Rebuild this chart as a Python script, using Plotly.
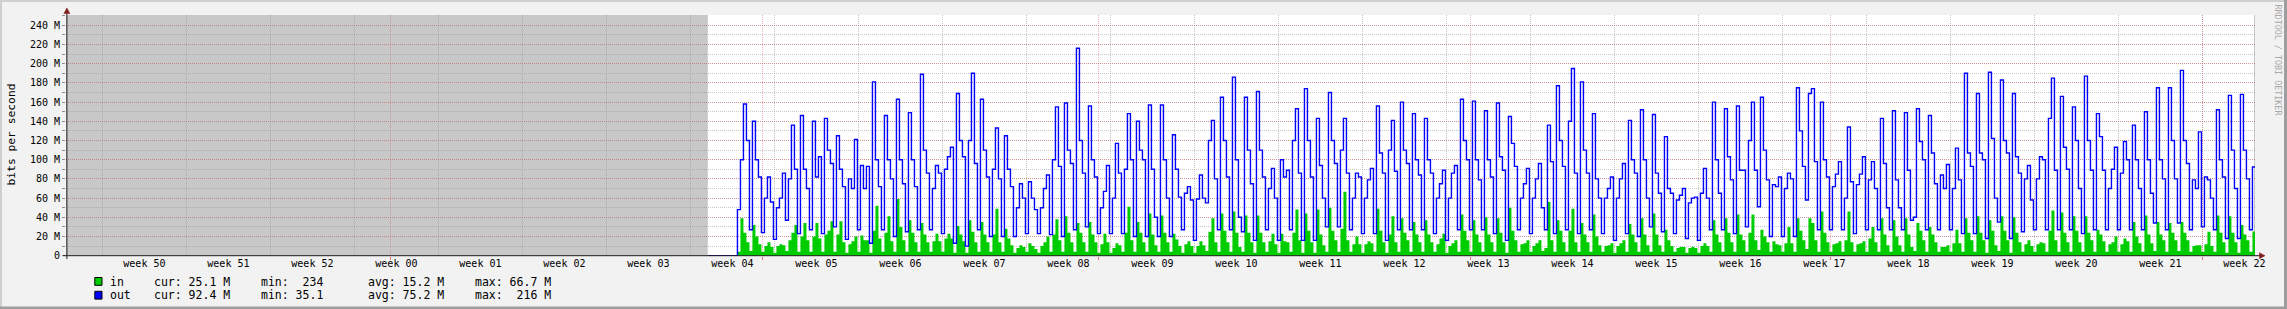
import plotly.graph_objects as go

# ---------------- data (values in M bit/s) ----------------
FIRST_DAY = 55.92        # first known sample (days from left edge of the time axis)
STEP = 0.25              # 6-hour samples, 4 per day
UNKNOWN_END = 53.45      # end of the grey "unknown" period on the left
NOW = 182.30             # last column (unknown, grey)

week_labels = ["week 50", "week 51", "week 52"] + ["week %02d" % i for i in range(0, 23)]
week_bounds = [3 + 7 * k for k in range(26)]
week_centers = [6.5 + 7 * k for k in range(26)]
month_bounds = [27, 58, 86, 117, 147, 178]
y_ticks = list(range(0, 241, 20))
y_ticktext = ["0"] + ["%d M" % v for v in y_ticks[1:]]

out_mbps = [
    [48, 100, 158, 120], [27, 140, 100, 82], [24, 60, 82, 56], [17, 50, 60, 86],
    [37, 80, 136, 90], [23, 146, 90, 70], [27, 140, 82, 103], [23, 143, 110, 96],
    [30, 125, 90, 72], [17, 80, 70, 121], [27, 94, 70, 93], [13, 181, 100, 72],
    [27, 146, 100, 80], [20, 163, 100, 75], [25, 149, 100, 72], [27, 189, 110, 86],
    [27, 70, 94, 86], [23, 90, 103, 113], [13, 169, 120, 103], [10, 120, 190, 96],
    [27, 163, 110, 82], [20, 90, 133, 80], [20, 125, 90, 72], [20, 50, 75, 60],
    [23, 77, 60, 48], [23, 50, 70, 84], [22, 100, 155, 93], [20, 159, 110, 96],
    [27, 216, 120, 86], [30, 156, 100, 82], [23, 50, 67, 94], [23, 60, 117, 86],
    [23, 90, 148, 100], [20, 140, 110, 100], [20, 157, 90, 40], [20, 157, 100, 60],
    [20, 126, 90, 61], [27, 65, 72, 58], [16, 59, 84, 60], [55, 120, 141, 80],
    [27, 165, 120, 82], [27, 186, 100, 40], [25, 165, 110, 75], [16, 171, 110, 82],
    [27, 70, 91, 60], [16, 100, 82, 89], [27, 120, 153, 86], [16, 174, 120, 82],
    [16, 143, 94, 60], [30, 170, 120, 96], [30, 110, 143, 86], [27, 60, 86, 82],
    [23, 60, 79, 91], [23, 156, 107, 86], [16, 110, 141, 88], [27, 160, 110, 96],
    [27, 148, 100, 84], [27, 143, 100, 86], [23, 60, 75, 89], [16, 60, 86, 94],
    [27, 163, 120, 100], [27, 161, 100, 79], [27, 151, 100, 82], [23, 159, 103, 89],
    [16, 145, 117, 93], [27, 60, 75, 91], [23, 60, 80, 96], [50, 27, 136, 98],
    [23, 177, 120, 93], [27, 140, 195, 86], [23, 181, 110, 86], [27, 148, 80, 60],
    [23, 60, 70, 82], [16, 60, 80, 96], [23, 141, 100, 86], [20, 152, 100, 60],
    [30, 147, 86, 65], [25, 124, 70, 65], [23, 58, 63, 70], [18, 55, 60, 61],
    [16, 65, 91, 60], [27, 160, 100, 65], [27, 153, 103, 79], [23, 156, 89, 89],
    [30, 120, 160, 89], [51, 165, 110, 79], [20, 74, 72, 82], [20, 70, 86, 80],
    [20, 175, 130, 93], [58, 169, 174, 98], [27, 160, 100, 82], [27, 72, 85, 98],
    [27, 60, 134, 77], [23, 74, 85, 103], [27, 79, 98, 70], [27, 143, 96, 50],
    [27, 151, 79, 50], [27, 149, 89, 37], [40, 153, 119, 100], [27, 146, 107, 75],
    [27, 84, 70, 95], [27, 70, 112, 79], [23, 190, 107, 93], [23, 169, 107, 100],
    [18, 191, 122, 60], [35, 183, 120, 107], [18, 169, 103, 86], [25, 80, 94, 58],
    [27, 80, 103, 100], [27, 143, 185, 89], [27, 166, 113, 90], [27, 155, 120, 70],
    [23, 187, 120, 89], [27, 148, 124, 89], [27, 70, 90, 113], [27, 86, 119, 100],
    [27, 136, 100, 70], [27, 150, 100, 65], [34, 175, 100, 80], [27, 175, 120, 80],
    [34, 193, 120, 96], [27, 79, 70, 129], [30, 82, 79, 60], [27, 152, 100, 82],
    [18, 167, 110, 70], [18, 168, 110, 80], [27, 92.4],
]

in_mbps = [
    [4, 39, 24, 14], [5, 32, 20, 12], [4, 10, 14, 9], [3, 10, 12, 11],
    [5, 16, 24, 32], [4, 20, 34, 16], [4, 20, 34, 18], [4, 22, 26, 36],
    [4, 22, 36, 14], [3, 12, 15, 20], [4, 21, 16, 16], [3, 26, 52, 18],
    [4, 24, 41, 15], [4, 59, 30, 16], [4, 37, 24, 14], [4, 34, 22, 14],
    [4, 15, 23, 15], [4, 18, 23, 18], [3, 31, 22, 15], [3, 37, 25, 14],
    [4, 35, 22, 14], [4, 22, 49, 14], [4, 28, 18, 11], [3, 8, 11, 9],
    [4, 13, 10, 7], [3, 10, 14, 20], [4, 22, 38, 16], [4, 41, 24, 14],
    [4, 34, 24, 14], [4, 35, 22, 14], [3, 12, 23, 14], [3, 8, 13, 11],
    [4, 24, 51, 16], [4, 35, 24, 14], [4, 44, 22, 11], [4, 42, 24, 14],
    [4, 23, 17, 10], [3, 12, 15, 10], [3, 10, 15, 11], [5, 25, 39, 14],
    [4, 44, 26, 14], [4, 46, 24, 9], [4, 42, 24, 14], [3, 42, 24, 14],
    [4, 15, 23, 12], [3, 23, 15, 14], [4, 24, 48, 16], [3, 44, 26, 14],
    [3, 48, 22, 11], [4, 50, 26, 16], [4, 28, 66.7, 16], [4, 12, 20, 12],
    [3, 12, 15, 13], [4, 49, 26, 14], [3, 22, 41, 14], [4, 39, 24, 16],
    [4, 35, 22, 14], [4, 37, 22, 14], [4, 12, 18, 23], [3, 10, 13, 16],
    [4, 43, 26, 16], [4, 37, 22, 14], [4, 40, 22, 14], [4, 39, 24, 14],
    [3, 50, 26, 16], [4, 12, 13, 16], [4, 10, 13, 16], [5, 8, 56, 16],
    [4, 37, 26, 14], [4, 26, 49, 14], [4, 34, 22, 14], [4, 43, 20, 11],
    [4, 10, 11, 13], [3, 10, 13, 16], [4, 33, 22, 14], [4, 39, 22, 11],
    [4, 44, 22, 11], [4, 27, 16, 10], [4, 8, 9, 9], [3, 8, 9, 8],
    [3, 10, 13, 10], [4, 37, 22, 14], [4, 39, 24, 14], [4, 43, 22, 16],
    [4, 24, 43, 16], [6, 27, 20, 14], [4, 15, 12, 11], [4, 13, 30, 13],
    [4, 39, 26, 16], [7, 39, 34, 16], [4, 46, 24, 14], [4, 12, 13, 15],
    [4, 16, 46, 14], [4, 12, 13, 15], [4, 18, 30, 14], [4, 39, 22, 11],
    [4, 37, 20, 11], [4, 39, 22, 9], [5, 34, 26, 16], [4, 30, 22, 14],
    [4, 9, 9, 11], [4, 13, 27, 13], [4, 39, 24, 16], [4, 41, 24, 16],
    [3, 37, 26, 11], [5, 41, 26, 16], [3, 40, 24, 14], [4, 12, 16, 10],
    [4, 12, 14, 13], [4, 26, 47, 16], [4, 45, 24, 14], [4, 41, 26, 14],
    [4, 41, 24, 16], [4, 27, 22, 15], [4, 12, 14, 20], [4, 12, 18, 15],
    [4, 35, 20, 13], [4, 42, 22, 13], [5, 35, 22, 16], [4, 34, 24, 16],
    [5, 35, 24, 16], [4, 10, 11, 11], [4, 12, 25, 10], [4, 42, 24, 14],
    [3, 41, 24, 14], [3, 32, 22, 16], [4, 25.1],
]

legend_names = ["in", "out"]
legend_colors = ["#00cc00", "#0000ff"]
legend_cur = ["cur: 25.1 M", "cur: 92.4 M"]
legend_min = ["min:  234", "min: 35.1"]
legend_avg = ["avg: 15.2 M", "avg: 75.2 M"]
legend_max = ["max: 66.7 M", "max:  216 M"]

# ---------------- geometry / styles ----------------
W, H = 2287, 309
L, R, T, B = 66, 32, 15, 53
PW, PH = W - L - R, H - T - B
X0PX = 66.4           # pixel of time 0
PXDAY = 12.0          # pixels per day
XR = [(L - X0PX) / PXDAY, (W - R - X0PX) / PXDAY]
YR = [-0.3, 250.7]
FONT = "DejaVu Sans Mono"
GRID = "rgba(143,143,143,0.5)"
MGRID = "rgba(222,79,79,0.42)"
AXIS = "#1f1f1f"
ARROW = "#801f1f"


def pxx(x):
    return (x - L) / PW


def pxy(y):
    return (H - B - y) / PH


def series(daily):
    vals = [v for day in daily for v in day]
    xs = [FIRST_DAY + i * STEP for i in range(len(vals))]
    xs.append(FIRST_DAY + len(vals) * STEP)
    vals.append(vals[-1])
    return xs, vals


in_x, in_y = series(in_mbps)
out_x, out_y = series(out_mbps)

fig = go.Figure()
fig.add_trace(go.Scatter(x=in_x, y=in_y, mode="lines", line=dict(shape="hv", width=0, color="#00cc00"),
                         fill="tozeroy", fillcolor="#00cc00", hoverinfo="skip"))
fig.add_trace(go.Scatter(x=[UNKNOWN_END] + out_x, y=[0] + out_y, mode="lines",
                         line=dict(shape="hv", width=1.4, color="#0000ff"), hoverinfo="skip"))
fig.add_trace(go.Scatter(x=week_centers, y=[0] * len(week_centers), xaxis="x2", mode="markers",
                         marker=dict(opacity=0), hoverinfo="skip"))

shapes = []
# unknown periods (grey)
shapes.append(dict(type="rect", xref="x", yref="paper", x0=XR[0], x1=UNKNOWN_END, y0=0, y1=1,
                   fillcolor="#c8c8c8", line=dict(width=0), layer="below"))
shapes.append(dict(type="rect", xref="x", yref="paper", x0=NOW, x1=XR[1], y0=0, y1=1,
                   fillcolor="#c8c8c8", line=dict(width=0), layer="below"))
# outer frame
shapes.append(dict(type="rect", xref="paper", yref="paper", x0=pxx(0), x1=pxx(W), y0=pxy(0), y1=pxy(2),
                   fillcolor="#cfcfcf", line=dict(width=0)))
shapes.append(dict(type="rect", xref="paper", yref="paper", x0=pxx(0), x1=pxx(2), y0=pxy(0), y1=pxy(H),
                   fillcolor="#cfcfcf", line=dict(width=0)))
shapes.append(dict(type="rect", xref="paper", yref="paper", x0=pxx(0), x1=pxx(W), y0=pxy(H - 2.5), y1=pxy(H),
                   fillcolor="#9e9e9e", line=dict(width=0)))
shapes.append(dict(type="rect", xref="paper", yref="paper", x0=pxx(W - 3), x1=pxx(W), y0=pxy(0), y1=pxy(H),
                   fillcolor="#9e9e9e", line=dict(width=0)))
# axes
shapes.append(dict(type="line", xref="paper", yref="paper", x0=pxx(66.9), x1=pxx(66.9), y0=pxy(12), y1=pxy(259),
                   line=dict(color=AXIS, width=1)))
shapes.append(dict(type="line", xref="paper", yref="paper", x0=pxx(63), x1=pxx(2260), y0=pxy(255.7), y1=pxy(255.7),
                   line=dict(color=AXIS, width=1)))
shapes.append(dict(type="path", xref="paper", yref="paper",
                   path="M %f,%f L %f,%f L %f,%f Z" % (pxx(66.9), pxy(8), pxx(63.9), pxy(13.5), pxx(69.9), pxy(13.5)),
                   fillcolor=ARROW, line=dict(color=ARROW, width=0.5)))
shapes.append(dict(type="path", xref="paper", yref="paper",
                   path="M %f,%f L %f,%f L %f,%f Z" % (pxx(2265), pxy(255.7), pxx(2259.5), pxy(252.7), pxx(2259.5), pxy(258.7)),
                   fillcolor=ARROW, line=dict(color=ARROW, width=0.5)))

annotations = []
annotations.append(dict(text="bits per second", xref="paper", yref="paper", x=pxx(10.5), y=pxy(135),
                        textangle=-90, showarrow=False, font=dict(family=FONT, size=11.3, color="#000"),
                        xanchor="center", yanchor="middle"))
annotations.append(dict(text="RRDTOOL / TOBI OETIKER", xref="paper", yref="paper", x=pxx(2277.5), y=pxy(60),
                        textangle=90, showarrow=False, font=dict(family=FONT, size=8.4, color="#a8a8a8"),
                        xanchor="center", yanchor="middle"))
rows_y = [281.5, 295.3]
for i in range(2):
    yy = rows_y[i]
    shapes.append(dict(type="rect", xref="paper", yref="paper", x0=pxx(94.8), x1=pxx(102), y0=pxy(yy - 4),
                       y1=pxy(yy + 3.8), fillcolor=legend_colors[i], line=dict(color="#000", width=1)))
    for xpos, txt in [(108.5, legend_names[i]), (152.5, legend_cur[i]), (259.5, legend_min[i]),
                      (366.5, legend_avg[i]), (473.5, legend_max[i])]:
        annotations.append(dict(text=txt.replace(" ", "&nbsp;"), xref="paper", yref="paper", x=pxx(xpos), y=pxy(yy),
                                showarrow=False, xanchor="left", yanchor="middle", borderpad=0,
                                font=dict(family=FONT, size=11.5, color="#000")))

fig.update_layout(
    width=W, height=H, autosize=False,
    margin=dict(l=L, r=R, t=T, b=B, pad=0),
    paper_bgcolor="#f2f2f2", plot_bgcolor="#ffffff",
    showlegend=False,
    font=dict(family=FONT, size=10, color="#000"),
    xaxis=dict(range=XR, tickmode="array", tickvals=month_bounds, showticklabels=False,
               showgrid=True, gridcolor=MGRID, griddash="1px,1px", gridwidth=1,
               ticks="outside", ticklen=3, tickcolor="rgba(222,79,79,0.8)",
               zeroline=False, showline=False, fixedrange=True,
               minor=dict(tickmode="array", tickvals=week_bounds, showgrid=True, gridcolor=GRID,
                          griddash="1px,1px", gridwidth=1, ticks="")),
    xaxis2=dict(range=XR, overlaying="x", anchor="y", side="bottom", tickmode="array",
                tickvals=week_centers, ticktext=week_labels, showgrid=False, zeroline=False,
                ticks="", showline=False, tickfont=dict(family=FONT, size=10, color="#000"), fixedrange=True),
    yaxis=dict(range=YR, tickmode="array", tickvals=y_ticks, ticktext=y_ticktext,
               showgrid=True, gridcolor=MGRID, griddash="1px,1px", gridwidth=1,
               ticks="outside", ticklen=3, tickcolor="#8f8f8f", zeroline=False, showline=False,
               tickfont=dict(family=FONT, size=10, color="#000"), fixedrange=True,
               minor=dict(tick0=0, dtick=10, showgrid=True, gridcolor=GRID, griddash="1px,1px",
                          gridwidth=1, ticks="outside", ticklen=3, tickcolor="#8f8f8f")),
    shapes=shapes,
    annotations=annotations,
)

fig.write_html("out.html")
